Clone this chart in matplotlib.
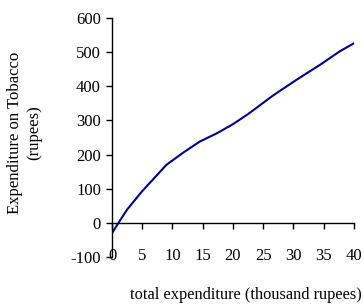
import numpy as np
import matplotlib
matplotlib.use("Agg")
import matplotlib.pyplot as plt

plt.rcParams["font.family"] = ["Liberation Serif", "DejaVu Serif"]
plt.rcParams["axes.unicode_minus"] = False

# values
total_exp = [0, 1, 2.5, 5, 6.3, 9, 11.8, 14.5, 17.3, 20, 22.6, 26.7, 30.5, 34.4, 37.7, 40]
tobacco_exp = [-30, -2, 39, 93, 118, 170, 206, 238, 262, 289, 320, 374, 419, 463, 503, 526]

x_ticks = [0, 5, 10, 15, 20, 25, 30, 35, 40]
y_ticks = [-100, 0, 100, 200, 300, 400, 500, 600]

fig = plt.figure(figsize=(3.64, 3.08), dpi=100)
ax = fig.add_axes([0.3077, 0.1656, 0.6648, 0.776])

ax.plot(total_exp, tobacco_exp, color="#000080", lw=1.5)

ax.set_xlim(0, 40)
ax.set_ylim(-100, 600)
ax.set_xticks(x_ticks)
ax.set_yticks(y_ticks)

ax.spines["top"].set_visible(False)
ax.spines["right"].set_visible(False)
ax.spines["bottom"].set_position(("data", 0))
ax.spines["left"].set_linewidth(1.0)
ax.spines["bottom"].set_linewidth(1.0)

ax.tick_params(axis="y", direction="out", length=4, width=1, labelsize=12, pad=4)
ax.tick_params(axis="x", direction="out", length=4, width=1, labelsize=12, pad=14)

ax.set_ylabel("Expenditure on Tobacco\n(rupees)", fontsize=12)
ax.yaxis.set_label_coords(-0.29, 0.52)
ax.set_xlabel("total expenditure (thousand rupees)", fontsize=11.8)
ax.xaxis.set_label_coords(0.555, -0.125)

fig.savefig("out.png", dpi=100)
